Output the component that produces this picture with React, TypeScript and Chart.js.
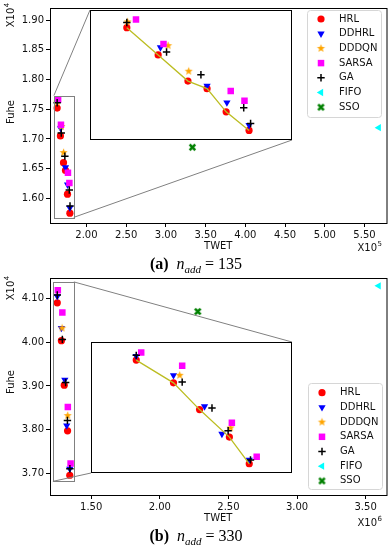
import React, { useEffect, useRef } from 'react';
import { Chart, registerables } from 'chart.js';
import * as helpers from 'chart.js/helpers';

Chart.register(...registerables);

const METHODS = ['HRL', 'DDHRL', 'DDDQN', 'SARSA', 'GA', 'FIFO', 'SSO'];

// ---------- (a) n_add = 135 : TWET (x10^5), Fuhe (x10^4) ----------
const A_HRL_X = [1.631, 1.672, 1.711, 1.736, 1.761, 1.791];
const A_HRL_Y = [1.752, 1.705, 1.660, 1.647, 1.607, 1.575];
const A_DDHRL_X = [1.675, 1.736, 1.762, 1.791];
const A_DDHRL_Y = [1.718, 1.652, 1.623, 1.584];
const A_DDDQN_X = [1.632, 1.685, 1.712];
const A_DDDQN_Y = [1.762, 1.721, 1.677];
const A_SARSA_X = [1.643, 1.679, 1.767, 1.785];
const A_SARSA_Y = [1.766, 1.724, 1.643, 1.626];
const A_GA_X = [1.631, 1.683, 1.728, 1.784, 1.793];
const A_GA_Y = [1.761, 1.710, 1.671, 1.614, 1.587];
const A_FIFO_X = [5.68];
const A_FIFO_Y = [1.719];
const A_SSO_X = [3.334];
const A_SSO_Y = [1.686];
const A_X_TICKS = [2.0, 2.5, 3.0, 3.5, 4.0, 4.5, 5.0, 5.5];
const A_Y_TICKS = [1.6, 1.65, 1.7, 1.75, 1.8, 1.85, 1.9];
const A_XLIM = [1.541, 5.777];
const A_YLIM = [1.5585, 1.9204];
const A_INSET_XLIM = [1.59, 1.84];
const A_INSET_YLIM = [1.568, 1.773];

// ---------- (b) n_add = 330 : TWET (x10^6), Fuhe (x10^4) ----------
const B_HRL_X = [1.253, 1.283, 1.304, 1.328, 1.344];
const B_HRL_Y = [4.091, 4.004, 3.902, 3.797, 3.695];
const B_DDHRL_X = [1.253, 1.283, 1.308, 1.322, 1.344];
const B_DDHRL_Y = [4.106, 4.033, 3.914, 3.809, 3.710];
const B_DDDQN_X = [1.288, 1.329];
const B_DDDQN_Y = [4.033, 3.832];
const B_SARSA_X = [1.257, 1.290, 1.330, 1.350];
const B_SARSA_Y = [4.120, 4.069, 3.852, 3.722];
const B_GA_X = [1.253, 1.290, 1.314, 1.327, 1.345];
const B_GA_Y = [4.109, 4.007, 3.908, 3.821, 3.710];
const B_FIFO_X = [3.595];
const B_FIFO_Y = [4.130];
const B_SSO_X = [2.277];
const B_SSO_Y = [4.071];
const B_X_TICKS = [1.5, 2.0, 2.5, 3.0, 3.5];
const B_Y_TICKS = [3.7, 3.8, 3.9, 4.0, 4.1];
const B_XLIM = [1.2, 3.652];
const B_YLIM = [3.6497, 4.148];
const B_INSET_XLIM = [1.221, 1.374];
const B_INSET_YLIM = [3.681, 4.139];

const OLIVE = '#bcbd22';
const FONT = '"DejaVu Sans", sans-serif';

function makeStar(color: string, r: number) {
  const c = document.createElement('canvas');
  const s = Math.ceil(r * 2 + 2);
  c.width = s; c.height = s;
  const ctx = c.getContext('2d')!;
  ctx.fillStyle = color;
  ctx.beginPath();
  for (let i = 0; i < 10; i++) {
    const ang = -Math.PI / 2 + (i * Math.PI) / 5;
    const rr = i % 2 === 0 ? r : r * 0.42;
    ctx.lineTo(s / 2 + rr * Math.cos(ang), s / 2 + rr * Math.sin(ang));
  }
  ctx.closePath();
  ctx.fill();
  return c;
}

function makeX(color: string, r: number) {
  const c = document.createElement('canvas');
  const s = Math.ceil(r * 2 + 3);
  c.width = s; c.height = s;
  const ctx = c.getContext('2d')!;
  ctx.strokeStyle = color;
  ctx.lineWidth = 2.6;
  ctx.lineCap = 'butt';
  const m = s / 2;
  ctx.beginPath();
  ctx.moveTo(m - r, m - r); ctx.lineTo(m + r, m + r);
  ctx.moveTo(m + r, m - r); ctx.lineTo(m - r, m + r);
  ctx.stroke();
  return c;
}

type St = { color: string; pointStyle: any; radius: number; rotation?: number; borderWidth?: number };
let STYLES: St[] | null = null;
function styles(): St[] {
  if (!STYLES) {
    STYLES = [
      { color: '#ff0000', pointStyle: 'circle', radius: 3.6 },
      { color: '#0000ff', pointStyle: 'triangle', radius: 4.2, rotation: 180 },
      { color: '#ffa500', pointStyle: makeStar('#ffa500', 4.3), radius: 4 },
      { color: '#ff00ff', pointStyle: 'rect', radius: 4.6 },
      { color: '#000000', pointStyle: 'cross', radius: 3.7, borderWidth: 1.5 },
      { color: '#00ffff', pointStyle: 'triangle', radius: 4.2, rotation: -90 },
      { color: '#008000', pointStyle: makeX('#008000', 2.8), radius: 4 },
    ];
  }
  return STYLES;
}

function pts(xs: number[], ys: number[]) {
  return xs.map((x, i) => ({ x, y: ys[i] }));
}

function buildDatasets(series: number[][][], withLine: boolean) {
  const st = styles();
  const ds: any[] = METHODS.map((name, i) => ({
    type: 'scatter',
    label: name,
    data: pts(series[i][0], series[i][1]),
    pointStyle: st[i].pointStyle,
    pointRotation: st[i].rotation || 0,
    pointRadius: st[i].radius,
    pointBackgroundColor: st[i].color,
    pointBorderColor: st[i].color,
    pointBorderWidth: st[i].borderWidth || 0,
    showLine: false,
    order: METHODS.length - i + 1,
  }));
  if (withLine) {
    ds.push({
      type: 'line',
      label: 'HRL front',
      data: pts(series[0][0], series[0][1]),
      borderColor: OLIVE,
      borderWidth: 1.3,
      pointRadius: 0,
      fill: false,
      tension: 0,
      showLine: true,
      order: 0,
    });
  }
  return ds;
}

function drawSupText(ctx: CanvasRenderingContext2D, base: string, sup: string, startX: number, y: number) {
  ctx.font = `10px ${FONT}`;
  const w1 = ctx.measureText(base).width;
  ctx.fillText(base, startX, y);
  ctx.font = `7px ${FONT}`;
  ctx.fillText(sup, startX + w1 + 0.5, y - 4);
}
function supWidth(ctx: CanvasRenderingContext2D, base: string, sup: string) {
  ctx.font = `10px ${FONT}`;
  const w1 = ctx.measureText(base).width;
  ctx.font = `7px ${FONT}`;
  return w1 + 0.5 + ctx.measureText(sup).width;
}

type Box = { left: number; top: number; width: number; height: number };

function mainConfig(opts: {
  series: number[][][];
  xlim: number[]; ylim: number[];
  xticks: number[]; yticks: number[];
  padTop: number; xHeight: number;
  insetXlim: number[]; insetYlim: number[];
  inset: Box;
  connect: 'a' | 'b';
  legend: { x: number; y: number; w: number; h: number; row0: number };
  text: { yExpY: number; fuheY: number; twetY: number; xExp: string; xExpY: number };
}) {
  const st = styles();
  const framePlugin = {
    id: 'frameAndDecor',
    afterDatasetsDraw(chart: any) {
      const { ctx, chartArea: a, scales } = chart;
      ctx.save();
      const x0 = scales.x.getPixelForValue(opts.insetXlim[0]);
      const x1 = scales.x.getPixelForValue(opts.insetXlim[1]);
      const y0 = scales.y.getPixelForValue(opts.insetYlim[1]);
      const y1 = scales.y.getPixelForValue(opts.insetYlim[0]);
      ctx.strokeStyle = '#808080';
      ctx.lineWidth = 1;
      ctx.strokeRect(Math.round(x0) + 0.5, Math.round(y0) + 0.5, Math.round(x1 - x0), Math.round(y1 - y0));
      const b = opts.inset;
      ctx.beginPath();
      if (opts.connect === 'a') {
        ctx.moveTo(x0, y0); ctx.lineTo(b.left, b.top);
        ctx.moveTo(x1, y1); ctx.lineTo(b.left + b.width, b.top + b.height);
      } else {
        ctx.moveTo(x1, y0); ctx.lineTo(b.left + b.width, b.top);
        ctx.moveTo(x0, y1); ctx.lineTo(b.left, b.top + b.height);
      }
      ctx.stroke();
      ctx.strokeStyle = '#000';
      ctx.strokeRect(a.left + 0.5, a.top + 0.5, a.right - a.left, a.bottom - a.top);
      ctx.restore();
    },
    afterDraw(chart: any) {
      const { ctx, chartArea: a } = chart;
      ctx.save();
      ctx.fillStyle = '#111';
      ctx.textBaseline = 'middle';
      ctx.textAlign = 'left';
      ctx.save();
      ctx.translate(11, opts.text.yExpY);
      ctx.rotate(-Math.PI / 2);
      const w = supWidth(ctx, 'X10', '4');
      drawSupText(ctx, 'X10', '4', -w / 2, 0);
      ctx.restore();
      ctx.save();
      ctx.translate(11, opts.text.fuheY);
      ctx.rotate(-Math.PI / 2);
      ctx.font = `10px ${FONT}`;
      ctx.textAlign = 'center';
      ctx.fillText('Fuhe', 0, 0);
      ctx.restore();
      ctx.font = `10px ${FONT}`;
      ctx.textAlign = 'center';
      ctx.fillText('TWET', (a.left + a.right) / 2, opts.text.twetY);
      ctx.textAlign = 'left';
      const w2 = supWidth(ctx, 'X10', opts.text.xExp);
      drawSupText(ctx, 'X10', opts.text.xExp, 382 - w2, opts.text.xExpY);
      const L = opts.legend;
      ctx.beginPath();
      ctx.roundRect(L.x + 0.5, L.y + 0.5, L.w, L.h, 3);
      ctx.fillStyle = 'rgba(255,255,255,0.85)';
      ctx.fill();
      ctx.strokeStyle = '#d6d6d6';
      ctx.lineWidth = 1;
      ctx.stroke();
      METHODS.forEach((m, i) => {
        const yy = L.row0 + i * 14.7;
        ctx.fillStyle = st[i].color;
        ctx.strokeStyle = st[i].color;
        ctx.lineWidth = st[i].borderWidth || 1;
        (helpers as any).drawPoint(ctx, {
          pointStyle: st[i].pointStyle,
          rotation: st[i].rotation || 0,
          radius: st[i].radius,
          borderWidth: st[i].borderWidth || 0,
        }, L.x + 14, yy);
        ctx.fillStyle = '#111';
        ctx.font = `10px ${FONT}`;
        ctx.textAlign = 'left';
        ctx.textBaseline = 'middle';
        ctx.fillText(m, L.x + 32, yy);
      });
      ctx.restore();
    },
  };
  return {
    type: 'scatter' as const,
    data: { datasets: buildDatasets(opts.series, false) },
    options: {
      animation: false as const,
      responsive: false,
      events: [],
      layout: { padding: { top: opts.padTop, right: 4, left: 0, bottom: 0 } },
      plugins: { legend: { display: false }, tooltip: { enabled: false } },
      scales: {
        x: {
          type: 'linear' as const,
          min: opts.xlim[0], max: opts.xlim[1],
          afterBuildTicks: (s: any) => { s.ticks = opts.xticks.map((v) => ({ value: v })); },
          afterFit: (s: any) => { s.height = opts.xHeight; },
          ticks: {
            callback: (v: any) => Number(v).toFixed(2),
            font: { family: FONT, size: 10 }, color: '#111', padding: 2,
            autoSkip: false, maxRotation: 0,
          },
          grid: { drawOnChartArea: false, drawTicks: true, tickLength: 4, color: '#000' },
          border: { display: false },
        },
        y: {
          type: 'linear' as const,
          min: opts.ylim[0], max: opts.ylim[1],
          afterBuildTicks: (s: any) => { s.ticks = opts.yticks.map((v) => ({ value: v })); },
          afterFit: (s: any) => { s.width = 50; },
          ticks: {
            callback: (v: any) => Number(v).toFixed(2),
            font: { family: FONT, size: 10 }, color: '#111', padding: 2,
            autoSkip: false,
          },
          grid: { drawOnChartArea: false, drawTicks: true, tickLength: 4, color: '#000' },
          border: { display: false },
        },
      },
    },
    plugins: [framePlugin],
  };
}

function insetConfig(series: number[][][], xlim: number[], ylim: number[]) {
  const plugin = {
    id: 'insetFrame',
    beforeDraw(chart: any) {
      const { ctx, width, height } = chart;
      ctx.save();
      ctx.fillStyle = '#fff';
      ctx.fillRect(0, 0, width, height);
      ctx.restore();
    },
    afterDraw(chart: any) {
      const { ctx, width, height } = chart;
      ctx.save();
      ctx.strokeStyle = '#000';
      ctx.lineWidth = 1;
      ctx.strokeRect(0.5, 0.5, width - 1, height - 1);
      ctx.restore();
    },
  };
  return {
    type: 'scatter' as const,
    data: { datasets: buildDatasets(series, true) },
    options: {
      animation: false as const,
      responsive: false,
      events: [],
      layout: { padding: 0 },
      plugins: { legend: { display: false }, tooltip: { enabled: false } },
      scales: {
        x: { type: 'linear' as const, min: xlim[0], max: xlim[1], display: false },
        y: { type: 'linear' as const, min: ylim[0], max: ylim[1], display: false },
      },
    },
    plugins: [plugin],
  };
}

const A_SERIES = () => [
  [A_HRL_X, A_HRL_Y], [A_DDHRL_X, A_DDHRL_Y], [A_DDDQN_X, A_DDDQN_Y], [A_SARSA_X, A_SARSA_Y],
  [A_GA_X, A_GA_Y], [A_FIFO_X, A_FIFO_Y], [A_SSO_X, A_SSO_Y],
];
const B_SERIES = () => [
  [B_HRL_X, B_HRL_Y], [B_DDHRL_X, B_DDHRL_Y], [B_DDDQN_X, B_DDDQN_Y], [B_SARSA_X, B_SARSA_Y],
  [B_GA_X, B_GA_Y], [B_FIFO_X, B_FIFO_Y], [B_SSO_X, B_SSO_Y],
];

const INSET_A: Box = { left: 90, top: 10, width: 202, height: 130 };
const INSET_B: Box = { left: 91, top: 342, width: 201, height: 131 };
const B_TOP = 270;

export default function App() {
  const mainA = useRef<HTMLCanvasElement>(null);
  const insA = useRef<HTMLCanvasElement>(null);
  const mainB = useRef<HTMLCanvasElement>(null);
  const insB = useRef<HTMLCanvasElement>(null);

  useEffect(() => {
    const charts: Chart[] = [];
    charts.push(new Chart(mainA.current!, mainConfig({
      series: A_SERIES(), xlim: A_XLIM, ylim: A_YLIM, xticks: A_X_TICKS, yticks: A_Y_TICKS,
      padTop: 5, xHeight: 270 - 223,
      insetXlim: A_INSET_XLIM, insetYlim: A_INSET_YLIM,
      inset: INSET_A, connect: 'a',
      legend: { x: 307, y: 10, w: 74, h: 107, row0: 19 },
      text: { yExpY: 15, fuheY: 112, twetY: 246, xExp: '5', xExpY: 248 },
    }) as any));
    charts.push(new Chart(insA.current!, insetConfig(A_SERIES(), A_INSET_XLIM, A_INSET_YLIM) as any));
    charts.push(new Chart(mainB.current!, mainConfig({
      series: B_SERIES(), xlim: B_XLIM, ylim: B_YLIM, xticks: B_X_TICKS, yticks: B_Y_TICKS,
      padTop: 7, xHeight: 280 - 225,
      insetXlim: B_INSET_XLIM, insetYlim: B_INSET_YLIM,
      inset: { ...INSET_B, top: INSET_B.top - B_TOP }, connect: 'b',
      legend: { x: 308, y: 113, w: 74, h: 106, row0: 122.7 },
      text: { yExpY: 18, fuheY: 112, twetY: 248, xExp: '6', xExpY: 253 },
    }) as any));
    charts.push(new Chart(insB.current!, insetConfig(B_SERIES(), B_INSET_XLIM, B_INSET_YLIM) as any));
    return () => charts.forEach((c) => c.destroy());
  }, []);

  const cap: React.CSSProperties = {
    position: 'absolute', left: 0, width: 392, textAlign: 'center',
    fontFamily: '"Liberation Serif", "DejaVu Serif", serif', fontSize: 16, lineHeight: '18px', color: '#000',
  };
  const sub: React.CSSProperties = { fontSize: 11, fontStyle: 'italic', position: 'relative', top: 4 };

  return (
    <div style={{ position: 'absolute', left: 0, top: 0, width: 392, height: 550, background: '#fff', overflow: 'hidden' }}>
      <canvas ref={mainA} width={392} height={270} style={{ position: 'absolute', left: 0, top: 0 }} />
      <canvas ref={insA} width={INSET_A.width} height={INSET_A.height}
        style={{ position: 'absolute', left: INSET_A.left, top: INSET_A.top }} />
      <canvas ref={mainB} width={392} height={280} style={{ position: 'absolute', left: 0, top: B_TOP }} />
      <canvas ref={insB} width={INSET_B.width} height={INSET_B.height}
        style={{ position: 'absolute', left: INSET_B.left, top: INSET_B.top }} />
      <div style={{ ...cap, top: 255 }}>
        <b>(a)</b>&nbsp;&nbsp;<i>n</i><span style={sub}>add</span>&nbsp;=&nbsp;135
      </div>
      <div style={{ ...cap, top: 527 }}>
        <b>(b)</b>&nbsp;&nbsp;<i>n</i><span style={sub}>add</span>&nbsp;=&nbsp;330
      </div>
    </div>
  );
}
